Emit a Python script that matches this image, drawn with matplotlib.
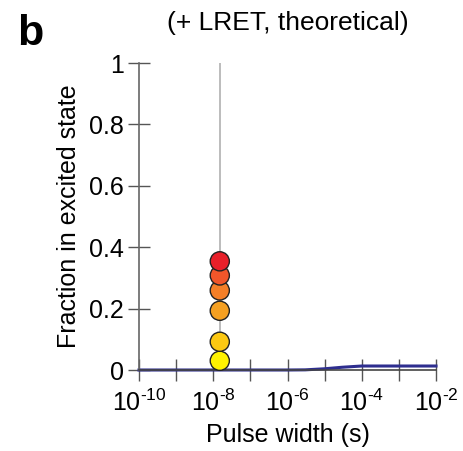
import matplotlib
matplotlib.use("Agg")
import matplotlib.pyplot as plt

plt.rcParams['font.family'] = ['Liberation Sans', 'DejaVu Sans']
plt.rcParams['mathtext.fontset'] = 'custom'
plt.rcParams['mathtext.rm'] = 'Liberation Sans'

# data
pulse_widths = [1e-10, 1e-8, 1e-6, 3e-6, 1e-5, 3e-5, 1e-4, 1e-3, 1e-2]
excited_frac = [0.0, 0.0, 0.0, 0.0005, 0.004, 0.009, 0.013, 0.013, 0.013]
marker_x = 1.5e-8
marker_y = [0.03, 0.092, 0.193, 0.259, 0.308, 0.354]
marker_colors = ['#fff200', '#fcc812', '#f5a022', '#f47f28', '#f0562a', '#e8202a']
x_exps = list(range(-10, -1))
x_ticks = [10.0 ** e for e in x_exps]
x_labels = [r'10$^{\mathregular{%s}}$' % ('\u2010' + str(-e)) if e % 2 == 0 else '' for e in x_exps]
y_ticks = [0, 0.2, 0.4, 0.6, 0.8, 1]
y_labels = ['0', '0.2', '0.4', '0.6', '0.8', '1']

fig = plt.figure(figsize=(4.64, 4.51), dpi=100)
ax = fig.add_axes([139 / 464, 1 - 370 / 451, (436 - 139) / 464, (370 - 63) / 451])

ax.axvline(marker_x, color='#b0b0b0', lw=1.2, zorder=1)
ax.plot(pulse_widths, excited_frac, color='#2e2e8f', lw=2.2, zorder=2, clip_on=False)
ax.scatter([marker_x] * len(marker_y), marker_y, s=190, c=marker_colors,
           edgecolors='#222222', linewidths=1, zorder=3, clip_on=False)

ax.set_xscale('log')
ax.set_xlim(1e-10, 1e-2)
ax.set_ylim(0, 1)
ax.set_xticks(x_ticks)
ax.set_xticklabels(x_labels)
ax.xaxis.set_minor_locator(matplotlib.ticker.NullLocator())
ax.set_yticks(y_ticks)
ax.set_yticklabels(y_labels)

for s in ['top', 'right']:
    ax.spines[s].set_visible(False)
ax.spines['left'].set_color('#666666')
ax.spines['bottom'].set_color('#444444')
for s in ['left', 'bottom']:
    ax.spines[s].set_linewidth(1.2)

ax.tick_params(axis='both', direction='inout', length=16, width=1,
               color='#555555', labelsize=18)
ax.tick_params(axis='y', pad=3)
ax.tick_params(axis='x', pad=6)

ax.set_xlabel('Pulse width (s)', fontsize=18, labelpad=5)
ax.set_ylabel('Fraction in excited state', fontsize=18, labelpad=6)

fig.text(288 / 464, 1 - 23 / 451, '(+ LRET, theoretical)', fontsize=19,
         ha='center', va='center')
fig.text(17 / 464, 1 - 34 / 451, 'b', fontsize=31, fontweight='bold',
         ha='left', va='center')

fig.savefig('out.png', dpi=100)
